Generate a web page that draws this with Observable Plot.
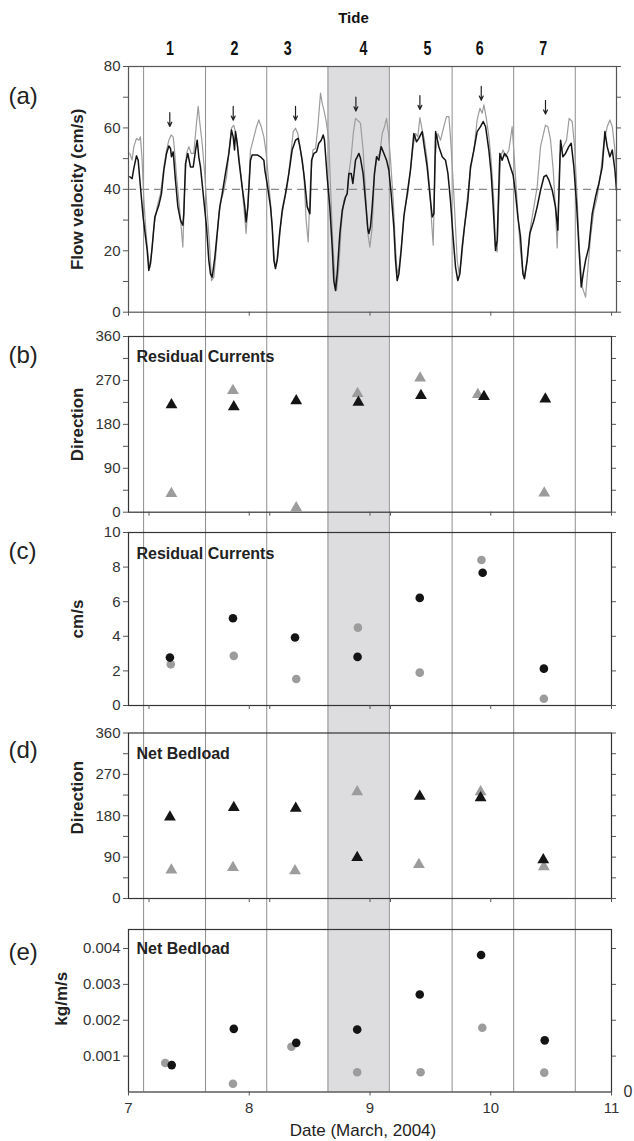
<!DOCTYPE html>
<html><head><meta charset="utf-8">
<script src="https://cdn.jsdelivr.net/npm/d3@7"></script>
<script src="https://cdn.jsdelivr.net/npm/@observablehq/plot@0.6"></script>
<style>
html,body{margin:0;padding:0;background:#fff;}
#chart{position:relative;width:634px;height:1141px;}
#chart svg{position:absolute;left:0;top:0;overflow:visible;}
</style></head><body><div id="chart"></div>
<script>
// ---------------- data ----------------
const tideIds = ["1","2","3","4","5","6","7"];
const tideLabelDay = [7.343, 7.878, 8.318, 8.946, 9.475, 9.909, 10.434];
const tideBoundaries = [7.125, 7.638, 8.145, 8.652, 9.16, 9.68, 10.19, 10.70];
const shadedTide = [{start: 8.652, end: 9.16}];

// panel (a): flow velocity (cm/s), [day of March 2004, value]
const velocityBlack = [[7.011,44.1],[7.030,43.5],[7.044,46.8],[7.066,50.9],[7.080,49.5],[7.099,40.8],[7.121,31.0],[7.141,24.5],[7.155,20.1],[7.168,13.6],[7.182,15.8],[7.196,21.2],[7.218,31.0],[7.251,34.8],[7.273,38.6],[7.293,46.3],[7.315,51.7],[7.334,54.1],[7.348,53.3],[7.356,50.6],[7.370,52.2],[7.389,42.9],[7.409,34.3],[7.431,29.9],[7.450,28.3],[7.458,32.1],[7.472,48.4],[7.491,51.7],[7.513,47.3],[7.536,47.3],[7.555,52.7],[7.569,56.0],[7.582,50.6],[7.596,47.3],[7.624,36.4],[7.646,27.8],[7.665,16.9],[7.679,12.5],[7.693,11.4],[7.715,17.9],[7.734,25.6],[7.756,34.3],[7.776,38.6],[7.803,45.2],[7.831,51.7],[7.853,59.3],[7.867,57.1],[7.878,52.8],[7.886,58.8],[7.900,55.0],[7.914,49.5],[7.941,40.8],[7.963,34.3],[7.974,29.4],[7.988,34.3],[8.010,49.5],[8.024,51.2],[8.066,51.2],[8.093,50.6],[8.121,49.5],[8.129,46.3],[8.148,41.9],[8.176,34.3],[8.190,27.8],[8.204,16.9],[8.217,14.2],[8.231,16.9],[8.251,25.6],[8.273,33.2],[8.300,38.6],[8.328,45.2],[8.355,52.8],[8.383,56.0],[8.405,56.6],[8.419,53.9],[8.438,49.5],[8.458,43.0],[8.480,34.3],[8.502,32.1],[8.516,49.5],[8.535,51.7],[8.557,52.2],[8.576,55.0],[8.596,56.0],[8.612,57.7],[8.623,56.0],[8.645,44.1],[8.667,34.3],[8.687,21.2],[8.700,10.3],[8.714,7.1],[8.728,12.5],[8.750,25.6],[8.770,33.2],[8.797,37.5],[8.811,38.6],[8.825,45.2],[8.844,45.2],[8.858,41.9],[8.880,49.5],[8.894,50.6],[8.908,51.7],[8.921,50.1],[8.943,45.0],[8.963,36.0],[8.982,27.0],[8.990,25.6],[9.004,27.8],[9.018,34.3],[9.037,45.2],[9.054,50.6],[9.073,49.5],[9.092,53.9],[9.115,51.7],[9.137,49.5],[9.156,46.3],[9.175,38.6],[9.197,27.8],[9.211,16.9],[9.225,10.3],[9.239,12.5],[9.258,20.1],[9.280,31.0],[9.308,38.6],[9.335,46.3],[9.363,58.2],[9.385,55.5],[9.404,56.6],[9.432,58.8],[9.451,53.3],[9.473,47.3],[9.495,38.6],[9.515,31.0],[9.529,32.1],[9.543,58.8],[9.570,53.9],[9.598,50.6],[9.625,49.5],[9.645,45.2],[9.666,36.4],[9.688,24.5],[9.708,14.7],[9.727,10.3],[9.744,12.5],[9.763,21.2],[9.782,27.8],[9.810,36.4],[9.832,47.3],[9.860,52.8],[9.887,58.8],[9.915,60.4],[9.937,62.1],[9.957,60.4],[9.984,52.8],[10.003,45.2],[10.020,34.3],[10.039,20.1],[10.053,23.5],[10.075,51.7],[10.094,49.5],[10.114,51.7],[10.136,50.6],[10.163,47.3],[10.185,44.6],[10.205,38.6],[10.224,31.0],[10.246,24.5],[10.266,12.5],[10.279,10.9],[10.301,16.9],[10.323,25.6],[10.357,29.9],[10.384,34.3],[10.412,39.7],[10.440,44.1],[10.461,44.6],[10.481,43.0],[10.509,39.7],[10.536,34.3],[10.555,26.7],[10.578,56.0],[10.597,50.6],[10.619,51.7],[10.646,53.9],[10.666,55.0],[10.688,47.3],[10.710,35.4],[10.730,21.2],[10.749,8.2],[10.765,12.5],[10.785,16.9],[10.812,21.2],[10.840,32.1],[10.867,37.5],[10.895,41.9],[10.923,47.3],[10.945,58.8],[10.964,53.9],[10.986,50.6],[11.006,52.8],[11.028,46.3],[11.041,39.7]];
const velocityGray = [[7.011,51.7],[7.030,49.5],[7.044,53.9],[7.066,56.6],[7.086,56.0],[7.099,57.1],[7.113,49.5],[7.127,36.4],[7.146,25.6],[7.163,17.9],[7.177,14.7],[7.190,19.0],[7.210,27.8],[7.237,34.3],[7.265,38.6],[7.293,47.3],[7.315,52.8],[7.334,56.0],[7.353,57.7],[7.370,57.1],[7.381,52.8],[7.398,44.1],[7.417,36.4],[7.436,27.8],[7.450,21.2],[7.464,38.6],[7.480,51.7],[7.500,53.9],[7.519,51.7],[7.541,51.7],[7.560,60.4],[7.577,67.0],[7.591,61.5],[7.610,55.0],[7.629,46.3],[7.651,33.2],[7.674,20.1],[7.687,10.3],[7.707,11.4],[7.726,20.1],[7.748,32.1],[7.767,36.4],[7.784,38.6],[7.812,44.1],[7.831,51.7],[7.853,59.9],[7.872,60.9],[7.894,57.1],[7.914,50.6],[7.936,43.0],[7.955,34.3],[7.974,25.6],[7.988,34.3],[8.010,52.8],[8.032,56.0],[8.060,60.4],[8.079,62.6],[8.099,60.4],[8.121,57.1],[8.140,51.7],[8.162,41.9],[8.181,33.2],[8.204,19.0],[8.217,14.7],[8.237,17.9],[8.259,27.8],[8.281,34.3],[8.314,40.8],[8.342,50.6],[8.364,58.8],[8.383,59.9],[8.402,58.2],[8.424,52.8],[8.452,45.2],[8.471,29.9],[8.488,22.9],[8.507,43.0],[8.527,52.8],[8.549,53.3],[8.568,60.4],[8.590,71.3],[8.604,68.0],[8.618,65.9],[8.640,61.5],[8.659,56.0],[8.673,40.8],[8.692,22.3],[8.709,11.4],[8.723,7.1],[8.742,14.7],[8.761,27.8],[8.783,36.4],[8.811,38.6],[8.825,45.2],[8.844,50.6],[8.861,58.2],[8.880,63.1],[8.908,62.1],[8.921,61.5],[8.943,52.8],[8.963,38.6],[8.982,25.6],[8.999,21.2],[9.018,27.8],[9.037,45.2],[9.059,50.6],[9.081,51.7],[9.101,58.2],[9.120,60.4],[9.137,63.1],[9.153,58.2],[9.170,49.5],[9.192,36.4],[9.211,21.2],[9.225,12.5],[9.241,14.7],[9.258,21.2],[9.286,33.2],[9.313,38.6],[9.335,46.3],[9.357,53.9],[9.377,58.2],[9.396,57.1],[9.413,63.4],[9.432,59.3],[9.451,56.0],[9.473,49.5],[9.495,39.7],[9.509,29.9],[9.523,21.8],[9.540,50.6],[9.562,58.2],[9.584,56.0],[9.611,60.4],[9.633,63.7],[9.653,63.7],[9.666,57.1],[9.686,44.1],[9.705,29.9],[9.722,16.9],[9.738,12.5],[9.757,16.9],[9.777,25.6],[9.804,36.4],[9.832,46.3],[9.860,52.8],[9.887,62.6],[9.910,66.4],[9.929,64.8],[9.943,67.5],[9.965,62.6],[9.984,57.1],[10.003,49.5],[10.025,36.4],[10.039,21.2],[10.053,19.6],[10.067,36.4],[10.081,50.6],[10.102,52.8],[10.122,50.6],[10.150,52.8],[10.177,60.4],[10.196,49.5],[10.219,35.4],[10.241,22.3],[10.260,14.7],[10.279,11.4],[10.301,16.9],[10.329,27.8],[10.357,34.3],[10.384,40.8],[10.412,53.9],[10.434,57.7],[10.453,60.9],[10.473,60.4],[10.495,56.0],[10.517,46.3],[10.536,33.2],[10.550,20.9],[10.572,51.7],[10.600,53.9],[10.627,56.0],[10.649,63.1],[10.674,62.1],[10.694,53.9],[10.716,36.4],[10.732,21.2],[10.757,8.2],[10.785,4.9],[10.798,11.4],[10.826,24.5],[10.854,33.2],[10.881,37.5],[10.909,45.2],[10.936,55.0],[10.964,60.4],[10.986,62.6],[11.006,60.4],[11.025,53.9],[11.041,46.3]];
const velocityThreshold = [40];
const peakArrowDay = [7.342, 7.867, 8.383, 8.883, 9.413, 9.921, 10.453];
const peakArrowTip = [60.5, 62.5, 62.5, 65.5, 66, 69, 64.5];

// panel (b): residual current direction (deg)
const resDirDayBlack = [7.356, 7.872, 8.389, 8.904, 9.422, 9.944, 10.452];
const resDirBlack    = [220, 216, 228, 225, 239, 237, 232];
const resDirDayGray  = [7.355, 7.865, 8.389, 8.897, 9.415, 9.893, 10.443];
const resDirGray     = [38, 249, 9, 243, 275, 241, 39];

// panel (c): residual current speed (cm/s)
const resSpdDayBlack = [7.343, 7.865, 8.379, 8.897, 9.412, 9.933, 10.44];
const resSpdBlack    = [2.77, 5.04, 3.93, 2.81, 6.22, 7.67, 2.13];
const resSpdDayGray  = [7.35, 7.872, 8.389, 8.90, 9.412, 9.923, 10.44];
const resSpdGray     = [2.38, 2.87, 1.53, 4.5, 1.9, 8.41, 0.39];

// panel (d): net bedload direction (deg)
const bedDirDayBlack = [7.343, 7.872, 8.385, 8.894, 9.412, 9.916, 10.435];
const bedDirBlack    = [177, 198, 196, 89, 222, 219, 84];
const bedDirDayGray  = [7.355, 7.865, 8.379, 8.894, 9.405, 9.916, 10.44];
const bedDirGray     = [62, 67, 60, 232, 74, 232, 69];

// panel (e): net bedload rate (kg/m/s)
const bedRateDayBlack = [7.358, 7.872, 8.389, 8.894, 9.412, 9.92, 10.447];
const bedRateBlack    = [0.00075, 0.00176, 0.00137, 0.00174, 0.00272, 0.00382, 0.00144];
const bedRateDayGray  = [7.304, 7.865, 8.349, 8.894, 9.419, 9.93, 10.443];
const bedRateGray     = [0.00081, 0.00023, 0.00126, 0.00055, 0.00055, 0.00179, 0.00054];

// axis ticks
const velTicks = [0, 20, 40, 60, 80];
const velMinor = [10, 30, 50, 70];
const velAll = [0, 10, 20, 30, 40, 50, 60, 70, 80];
const dirTicks = [0, 90, 180, 270, 360];
const dirMinor = [45, 135, 225, 315];
const dirAll = [0, 45, 90, 135, 180, 225, 270, 315, 360];
const spdTicks = [0, 2, 4, 6, 8, 10];
const rateTicks = [0.001, 0.002, 0.003, 0.004];
const dayTicks = [7, 8, 9, 10, 11];
const dayTicksMid = [7.17, 8, 8.17, 9, 9.17, 10, 11];

// ---------------- drawing ----------------
const W = 634, H = 1141;
const SANS = '"Liberation Sans", Arial, Helvetica, sans-serif';
const NARROW = '"Liberation Sans", "Arial Narrow", sans-serif';
const BLACK = "#141414", GRAY = "#9c9c9c";
const chart = document.getElementById("chart");

const baseStyle = {fontFamily: SANS, fontSize: "15px", color: "#333", background: "transparent", overflow: "visible"};

// background: shaded tide 4 and tide boundaries spanning all panels
chart.appendChild(Plot.plot({
  width: W, height: H, marginLeft: 128, marginRight: 23, marginTop: 66, marginBottom: H - 1091.5,
  x: {domain: [7, 11], axis: null}, y: {domain: [0, 1], axis: null},
  style: baseStyle,
  marks: [
    Plot.rect(shadedTide, {x1: "start", x2: "end", fill: "#dddde0"}),
    Plot.ruleX(tideBoundaries, {stroke: "#8e8e8e", strokeWidth: 1})
  ]
}));

function panel({top, bottom, right = 23, xDomain = [7, 11], yDomain, yLabels, yMinor, yRight, yFormat, xTicks, xLabeled = false, frame = "#333", letter, letterY, title, titleY, yTitle, yTitleDx = -51, yTitleDy = 0, marks}) {
  const blank = () => "";
  const m = [
    ...marks,
    Plot.frame({stroke: frame, strokeWidth: 1.2}),
    Plot.axisY(yLabels, {anchor: "left", tickSize: 5, tickPadding: 3, label: null, tickFormat: yFormat, fontSize: 15, stroke: "#555"}),
    Plot.axisY(yMinor, {anchor: "left", tickSize: 5, label: null, tickFormat: blank, stroke: "#555"}),
    Plot.axisY(yRight, {anchor: "right", tickSize: 4, label: null, tickFormat: blank, stroke: "#555"}),
    Plot.axisX(xTicks, {anchor: "bottom", tickSize: 4, tickPadding: 6, label: null, fontSize: 15,
      tickFormat: xLabeled ? d3.format("d") : blank, stroke: "#555"}),
    Plot.text([letter], {frameAnchor: "top-left", textAnchor: "start", lineAnchor: "middle", dx: -120, dy: letterY, fontSize: 24, fill: "#222"}),
    Plot.text([yTitle], {frameAnchor: "left", textAnchor: "middle", lineAnchor: "middle", rotate: -90, dx: yTitleDx, dy: yTitleDy, fontSize: 17, fontWeight: "bold", fill: "#222"})
  ];
  if (title) m.push(Plot.text([title], {frameAnchor: "top-left", textAnchor: "start", lineAnchor: "middle", dx: 8, dy: titleY, fontSize: 16, fontWeight: "bold", fill: "#222"}));
  return Plot.plot({
    width: W, height: H, marginLeft: 128, marginRight: right, marginTop: top, marginBottom: H - bottom,
    x: {domain: xDomain}, y: {domain: yDomain},
    style: baseStyle,
    marks: m
  });
}

const dots = (days, vals, color, symbol) =>
  Plot.dot(vals, {x: days, y: vals, fill: color, stroke: null, symbol, r: symbol === "triangle" ? 4.4 : 4.3});

// (a)
const pa = panel({
  top: 66, bottom: 311.7, right: 18, xDomain: [7, 11.041], yDomain: [0, 80],
  yLabels: velTicks, yMinor: velMinor, yRight: velAll, xTicks: dayTicks, frame: "#555",
  letter: "(a)", letterY: 30, yTitle: "Flow velocity (cm/s)",
  marks: [
    Plot.ruleY(velocityThreshold, {stroke: "#8a8a8a", strokeWidth: 1.2, strokeDasharray: "8,5"}),
    Plot.line(velocityGray, {x: d => d[0], y: d => d[1], stroke: GRAY, strokeWidth: 1.2}),
    Plot.line(velocityBlack, {x: d => d[0], y: d => d[1], stroke: BLACK, strokeWidth: 1.5}),
    Plot.arrow(peakArrowTip, {x1: peakArrowDay, x2: peakArrowDay, y1: peakArrowTip.map(v => v + 4.5), y2: peakArrowTip,
      stroke: "#222", strokeWidth: 1.2, headLength: 6, headAngle: 50}),
    Plot.text(tideIds, {x: tideLabelDay, text: d => d, frameAnchor: "top", lineAnchor: "middle", dy: -18, fontSize: 21, fontWeight: "bold", fontFamily: NARROW, fill: "#111"}),
    Plot.text(["Tide"], {frameAnchor: "top", lineAnchor: "middle", dx: -19, dy: -48, fontSize: 15, fontWeight: "bold", fill: "#111"})
  ]
});
chart.appendChild(pa);
// condense the tide numbers horizontally (narrow bold face)
d3.select(pa).selectAll('g[font-family*="Arial Narrow"] text')
  .attr("transform", function() { return (this.getAttribute("transform") || "") + " scale(0.68,1)"; });

// (b)
chart.appendChild(panel({
  top: 336, bottom: 511.7, yDomain: [0, 360],
  yLabels: dirTicks, yMinor: dirMinor, yRight: dirAll, xTicks: dayTicksMid,
  letter: "(b)", letterY: 19, title: "Residual Currents", titleY: 20, yTitle: "Direction",
  marks: [
    dots(resDirDayGray, resDirGray, GRAY, "triangle"),
    dots(resDirDayBlack, resDirBlack, BLACK, "triangle")
  ]
}));

// (c)
chart.appendChild(panel({
  top: 532, bottom: 705, yDomain: [0, 10],
  yLabels: spdTicks, yMinor: [], yRight: spdTicks, xTicks: dayTicksMid,
  letter: "(c)", letterY: 19, title: "Residual Currents", titleY: 21, yTitle: "cm/s",
  marks: [
    dots(resSpdDayGray, resSpdGray, GRAY, "circle"),
    dots(resSpdDayBlack, resSpdBlack, BLACK, "circle")
  ]
}));

// (d)
chart.appendChild(panel({
  top: 732.5, bottom: 898, yDomain: [0, 360],
  yLabels: dirTicks, yMinor: dirMinor, yRight: dirAll, xTicks: dayTicksMid,
  letter: "(d)", letterY: 17, title: "Net Bedload", titleY: 21, yTitle: "Direction", yTitleDy: -18,
  marks: [
    dots(bedDirDayGray, bedDirGray, GRAY, "triangle"),
    dots(bedDirDayBlack, bedDirBlack, BLACK, "triangle")
  ]
}));

// (e)
chart.appendChild(panel({
  top: 929, bottom: 1091.5, yDomain: [0, 0.00453],
  yLabels: rateTicks, yMinor: [], yRight: rateTicks, yFormat: d3.format(".3f"), xTicks: dayTicks, xLabeled: true,
  letter: "(e)", letterY: 23, title: "Net Bedload", titleY: 19, yTitle: "kg/m/s", yTitleDx: -67, yTitleDy: -12,
  marks: [
    dots(bedRateDayGray, bedRateGray, GRAY, "circle"),
    dots(bedRateDayBlack, bedRateBlack, BLACK, "circle"),
    Plot.text(["Date (March, 2004)"], {frameAnchor: "bottom", lineAnchor: "middle", dx: -7, dy: 39, fontSize: 17, fill: "#222"}),
    Plot.text(["0"], {frameAnchor: "bottom-right", textAnchor: "start", lineAnchor: "middle", dx: 12, dy: 0, fontSize: 16, fill: "#333"})
  ]
}));
</script>
</body></html>
